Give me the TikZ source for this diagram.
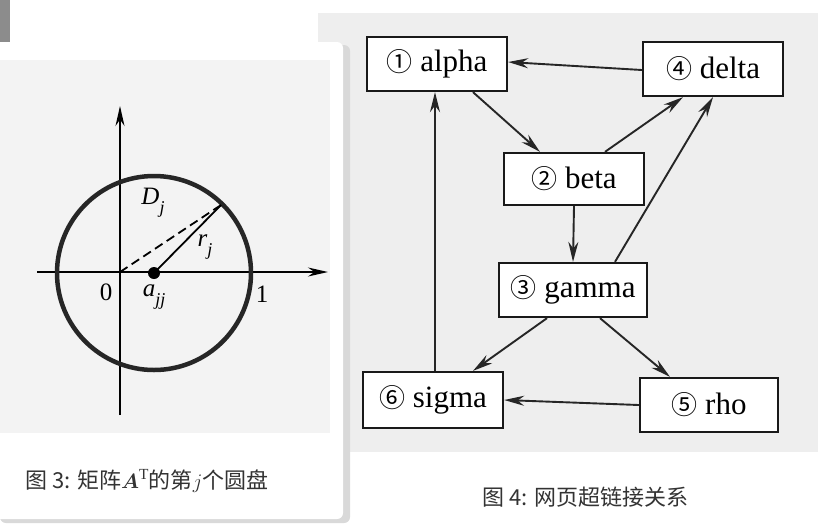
\documentclass[tikz,border=0pt]{standalone}
\usepackage{amsmath}
\usepackage{fontspec}
\setmainfont{Liberation Serif}
\newfontfamily\cj{Noto Sans CJK SC}
\usetikzlibrary{arrows.meta}
\definecolor{scanbg}{HTML}{EEEEEE}
\definecolor{scanin}{HTML}{F3F3F3}
\definecolor{capcol}{HTML}{333333}
\begin{document}
\begin{tikzpicture}[x=1pt,y=-1pt,
  pagebox/.style={draw=black!90,line width=2.3pt,fill=white,minimum width=140pt,minimum height=54pt,inner sep=0pt,font=\fontsize{31}{31}\selectfont},
  link/.style={line width=1.9pt,black!85,-{Stealth[length=20pt,width=10pt]}},
  axis/.style={line width=1.6pt,-{Stealth[length=20pt,width=9pt]}},
  lbl/.style={font=\fontsize{25}{25}\selectfont,inner sep=0pt},
  capt/.style={font=\cj\fontsize{22}{22}\selectfont,text=capcol,inner sep=0pt,anchor=west}]
\useasboundingbox (0,0) rectangle (818,523);
\fill[white] (0,0) rectangle (818,523);
% right scan
\fill[scanbg] (318,13) rectangle (818,452);
% top-left strip
\fill[black!45] (0,0) rectangle (10,42);
% card with shadow
\fill[black!15,rounded corners=6pt] (0,45) rectangle (350,523);
\fill[white,rounded corners=6pt] (-6,42) rectangle (343,519);
\fill[scanin] (0,60) rectangle (330,433);
% left figure
\coordinate (O) at (120,272);
\coordinate (C) at (154,273);
\coordinate (P) at (221,205);
\draw[axis] (37,272) -- (328,272);
\draw[axis] (120,415) -- (120,106);
\draw[line width=4.5pt,black!85] (C) circle[radius=97];
\draw[line width=1.8pt,dash pattern=on 9pt off 5pt] (O) -- (P);
\draw[line width=1.8pt] (C) -- (P);
\fill (C) circle[radius=6];
\node[lbl] (Dj) at (153,203) {\textit{D}\raisebox{-0.35em}{\fontsize{18}{18}\selectfont\textit{j}}};
\node[lbl] (rj) at (205,247) {\textit{r}\raisebox{-0.35em}{\fontsize{18}{18}\selectfont\textit{j}}};
\node[lbl] (zero) at (106,292) {0};
\node[lbl] (ajj) at (154,297) {\textit{a}\raisebox{-0.35em}{\fontsize{18}{18}\selectfont\textit{jj}}};
\node[lbl] (one) at (262,294) {1};
\node[capt] (cap3) at (25,481) {图 3: 矩阵$\boldsymbol{A}^{\mathrm{T}}$的第$j$个圆盘};
% right graph
\node[pagebox] (alpha) at (437,64) {{\cj\fontsize{26}{26}\selectfont ①} alpha};
\node[pagebox] (delta) at (713,69) {{\cj\fontsize{26}{26}\selectfont ④} delta};
\node[pagebox,minimum height=52pt] (beta) at (574,179) {{\cj\fontsize{26}{26}\selectfont ②} beta};
\node[pagebox,minimum width=148pt] (gamma) at (573,290) {{\cj\fontsize{26}{26}\selectfont ③} gamma};
\node[pagebox,minimum height=56pt] (sigma) at (433,400) {{\cj\fontsize{26}{26}\selectfont ⑥} sigma};
\node[pagebox,minimum width=138pt] (rho) at (709,405) {{\cj\fontsize{26}{26}\selectfont ⑤} rho};
\draw[link] ([yshift=-1pt]delta.west) -- ([yshift=2pt]alpha.east);
\draw[link] ([xshift=36pt]alpha.south) -- ([xshift=-34pt]beta.north);
\draw[link] ([xshift=31pt]beta.north) -- ([xshift=-30pt]delta.south);
\draw[link] ([xshift=42pt]gamma.north) -- (delta.south);
\draw[link] (beta.south) -- (gamma.north);
\draw[link] ([xshift=2pt]sigma.north) -- ([xshift=-2pt]alpha.south);
\draw[link] ([xshift=-26pt]gamma.south) -- ([xshift=40pt]sigma.north);
\draw[link] ([xshift=27pt]gamma.south) -- ([xshift=-39pt]rho.north);
\draw[link] (rho.west) -- (sigma.east);
\node[capt] (cap4) at (482,497) {图 4: 网页超链接关系};
\end{tikzpicture}
\end{document}
